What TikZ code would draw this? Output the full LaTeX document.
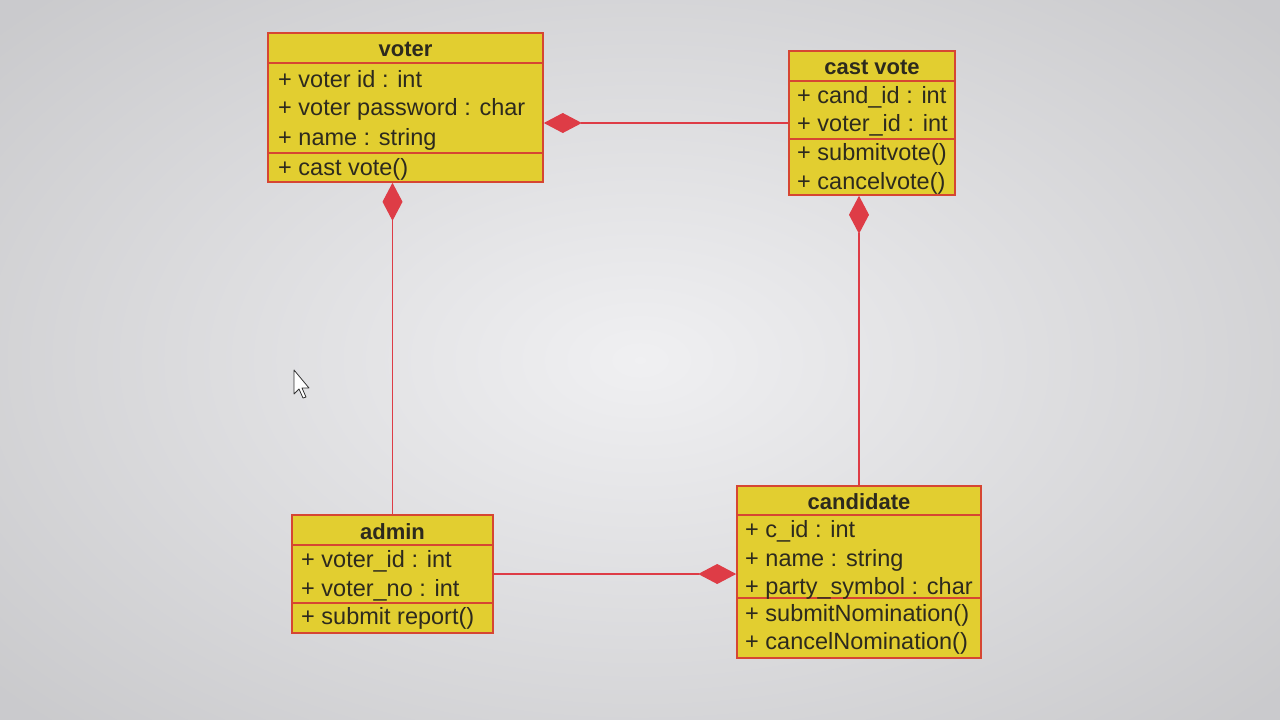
\documentclass[tikz,border=0pt]{standalone}
\usepackage{fontspec}
\setmainfont{Liberation Sans}
\usetikzlibrary{arrows.meta}
\definecolor{boxfill}{RGB}{226,206,48}
\definecolor{boxline}{RGB}{214,70,50}
\definecolor{conn}{RGB}{222,60,70}
\definecolor{txt}{RGB}{45,42,30}
\definecolor{bgin}{RGB}{240,240,242}
\definecolor{bgout}{RGB}{165,165,168}
\tikzset{
  classbox/.style={draw=boxline, line width=1.6pt, fill=boxfill, inner sep=0pt},
  sepline/.style={draw=boxline, line width=1.4pt},
  title/.style={font=\fontsize{22}{24}\selectfont\bfseries, text=txt, inner sep=0pt},
  member/.style={font=\fontsize{23.5}{25}\selectfont, text=txt, anchor=west, inner sep=0pt},
  comp/.style={draw=conn, line width=1.1pt, {Diamond[length=38pt,width=20pt,fill=conn]}-},
}
\begin{document}
\begin{tikzpicture}[x=1pt,y=-1pt]
\useasboundingbox (0,0) rectangle (1280,720);
\shade[inner color=bgin, outer color=bgout] (-200,-150) rectangle (1480,870);
\fill[bgin, opacity=0.5] (0,0) rectangle (1280,720);

% voter
\node[classbox, minimum width=275pt, minimum height=149pt] (voter) at (405.5,107.5) {};
\draw[sepline] (268,63) -- (543,63);
\draw[sepline] (268,153) -- (543,153);
\node[title] (voterT) at (405.5,49) {voter};
\node[member] (v1) at (278,79) {+ voter id : int};
\node[member] (v2) at (278,109) {+ voter password : char};
\node[member] (v3) at (278,139) {+ name : string};
\node[member] (v4) at (278,169) {+ cast vote()};

% cast vote
\node[classbox, minimum width=166pt, minimum height=144pt] (cast) at (872,123) {};
\draw[sepline] (789,81) -- (955,81);
\draw[sepline] (789,139) -- (955,139);
\node[title] (castT) at (872,67) {cast vote};
\node[member] (c1) at (797,97) {+ cand\_id : int};
\node[member] (c2) at (797,125) {+ voter\_id : int};
\node[member] (c3) at (797,154) {+ submitvote()};
\node[member] (c4) at (797,183) {+ cancelvote()};

% admin
\node[classbox, minimum width=201pt, minimum height=118pt] (admin) at (392.5,574) {};
\draw[sepline] (292,545) -- (493,545);
\draw[sepline] (292,603) -- (493,603);
\node[title] (adminT) at (392.5,532) {admin};
\node[member] (a1) at (301,561) {+ voter\_id : int};
\node[member] (a2) at (301,590) {+ voter\_no : int};
\node[member] (a3) at (301,618) {+ submit report()};

% candidate
\node[classbox, minimum width=244pt, minimum height=172pt] (cand) at (859,572) {};
\draw[sepline] (737,515) -- (981,515);
\draw[sepline] (737,598) -- (981,598);
\node[title] (candT) at (859,502) {candidate};
\node[member] (d1) at (745,531) {+ c\_id : int};
\node[member] (d2) at (745,560) {+ name : string};
\node[member] (d3) at (745,588) {+ party\_symbol : char};
\node[member] (d4) at (745,615) {+ submitNomination()};
\node[member] (d5) at (745,643) {+ cancelNomination()};

% connectors
\draw[comp] (voter.east |- cast.west) -- (cast.west);
\draw[comp] (voter.south -| admin.north) -- (admin.north);
\draw[comp] (cast.south -| cand.north) -- (cand.north);
\draw[comp] (cand.west |- admin.east) -- (admin.east);

% mouse cursor
\draw[fill=white, draw=black!80, line width=0.8pt, line join=round]
  (294,370) -- (294,394) -- (299,389) -- (303,398) -- (306,397) -- (302,388) -- (309,388) -- cycle;
\end{tikzpicture}
\end{document}
